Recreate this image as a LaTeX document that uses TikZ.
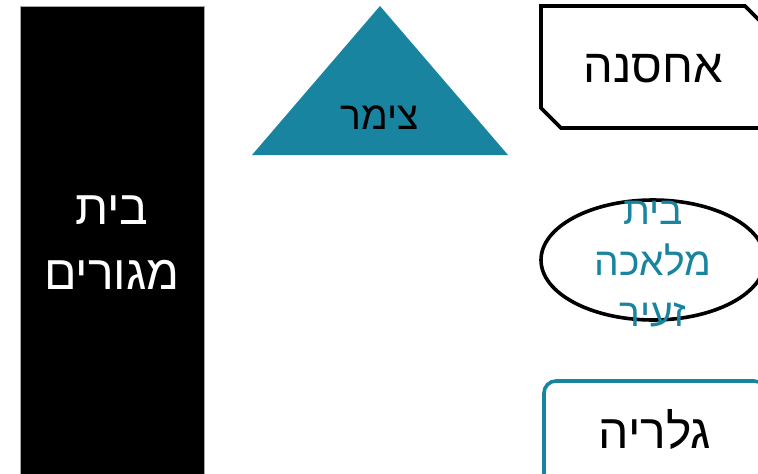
\documentclass[tikz,border=0pt]{standalone}
\usepackage{fontspec}
\setmainfont{Liberation Sans}
\newfontfamily\heb[Script=Hebrew]{Liberation Sans}
\TeXXeTstate=1
\definecolor{tealA}{HTML}{1884A0}
\begin{document}
\begin{tikzpicture}[x=1pt,y=-1pt,
  lbl/.style={font=\heb\fontsize{42}{50}\selectfont, align=center, inner sep=0pt},
  outl/.style={line width=3.6pt}]
\useasboundingbox (0,0) rectangle (758,474);
\clip (0,0) rectangle (758,474);
% black block
\fill[black, draw=gray!70, line width=0.8pt] (20,6) rectangle (204,480);
\node[lbl, text=white, font=\heb\fontsize{48}{65}\selectfont] (home) at (112,243) {\beginR בית\endR\\\beginR מגורים\endR};
% triangle
\fill[tealA] (380,6) -- (508,155) -- (252,155) -- cycle;
\node[lbl, text=black, font=\heb\fontsize{39}{47}\selectfont] (zimmer) at (380,118) {\beginR צימר\endR};
% storage (snipped corners)
\draw[outl, line join=miter] (541,6) -- (745,6) -- (767,28) -- (767,128) -- (561,128) -- (541,108) -- cycle;
\node[lbl, font=\heb\fontsize{47}{55}\selectfont] (storage) at (653,69) {\beginR אחסנה\endR};
% workshop ellipse
\draw[outl] (653,260) ellipse [x radius=112, y radius=60];
\node[lbl, text=tealA, font=\heb\fontsize{39}{51}\selectfont] (workshop) at (653,264) {\beginR בית\endR\\\beginR מלאכה\endR\\\beginR זעיר\endR};
% gallery
\draw[outl, draw=tealA, rounded corners=12pt] (544,381) rectangle (766,490);
\node[lbl, font=\heb\fontsize{48}{56}\selectfont] (gallery) at (655,430) {\beginR גלריה\endR};
\end{tikzpicture}
\end{document}
